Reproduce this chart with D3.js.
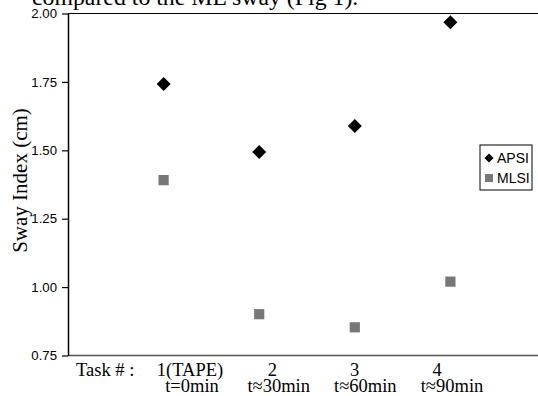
<!DOCTYPE html>
<html>
<head>
<meta charset="utf-8">
<script src="https://cdn.jsdelivr.net/npm/d3@7"></script>
<style>
  body { margin: 0; background: #fff; }
  svg { display: block; }
</style>
</head>
<body>
<div id="chart"></div>
<script>
// data
var tasks = [1, 2, 3, 4];
var taskNames = ["1(TAPE)", "2", "3", "4"];
var taskTimes = ["t=0min", "t\u224830min", "t\u224860min", "t\u224890min"];
var apsi = [1.742, 1.494, 1.589, 1.968];
var mlsi = [1.391, 0.901, 0.853, 1.020];
var yTicks = [0.75, 1.00, 1.25, 1.50, 1.75, 2.00];
var seriesNames = ["APSI", "MLSI"];

var width = 538, height = 396;
var margin = {top: 13.5, right: -8, bottom: 40.5, left: 68};

var svg = d3.select("#chart").append("svg")
  .attr("width", width)
  .attr("height", height);

var x = d3.scaleLinear()
  .domain([0, 5])
  .range([margin.left, width - margin.right]);
var y = d3.scaleLinear()
  .domain([0.75, 2.0])
  .range([height - margin.bottom, margin.top]);

// text cut off at the top of the page
svg.append("text")
  .attr("x", 32)
  .attr("y", 5)
  .style("font-family", "Liberation Serif")
  .style("font-size", "23.8px")
  .attr("fill", "#000")
  .text("compared to the ML sway (Fig 1).");

// top and bottom border of plot area
svg.append("line")
  .attr("x1", margin.left).attr("x2", width)
  .attr("y1", y(2.0)).attr("y2", y(2.0))
  .attr("stroke", "#000").attr("stroke-width", 1.2);
svg.append("line")
  .attr("x1", margin.left).attr("x2", width)
  .attr("y1", y(0.75)).attr("y2", y(0.75))
  .attr("stroke", "#555").attr("stroke-width", 1.5);

// y axis
var yAxis = svg.append("g")
  .attr("transform", "translate(" + margin.left + ",0)")
  .call(d3.axisLeft(y).tickValues(yTicks).tickFormat(d3.format(".2f"))
    .tickSize(6).tickPadding(5).tickSizeOuter(0));
yAxis.select(".domain").attr("stroke", "#000").attr("stroke-width", 1.5);
yAxis.selectAll(".tick line").attr("stroke", "#000").attr("stroke-width", 1.2);
yAxis.selectAll(".tick text")
  .style("font-family", "Liberation Sans")
  .style("font-size", "13.2px")
  .attr("fill", "#000");

svg.append("text")
  .attr("transform", "rotate(-90)")
  .attr("x", -180.5)
  .attr("y", 27)
  .style("text-anchor", "middle")
  .style("font-family", "Liberation Serif")
  .style("font-size", "21px")
  .attr("fill", "#000")
  .text("Sway Index (cm)");

// x labels (typed as text rows under the axis)
var lab1 = d3.scalePoint().domain(tasks).range([190, 437]);
var lab2 = d3.scalePoint().domain(tasks).range([192, 452]);

svg.append("text")
  .attr("x", 76)
  .attr("y", 375.5)
  .style("font-family", "Liberation Serif")
  .style("font-size", "18.5px")
  .attr("fill", "#000")
  .text("Task # :");

svg.selectAll(".lab1")
  .data(tasks)
  .enter().append("text")
  .attr("class", "lab1")
  .attr("x", function (d) { return lab1(d); })
  .attr("y", 375.5)
  .style("text-anchor", "middle")
  .style("font-family", "Liberation Serif")
  .style("font-size", "18.5px")
  .attr("fill", "#000")
  .text(function (d, i) { return taskNames[i]; });

svg.selectAll(".lab2")
  .data(tasks)
  .enter().append("text")
  .attr("class", "lab2")
  .attr("x", function (d) { return lab2(d); })
  .attr("y", 392)
  .style("text-anchor", "middle")
  .style("font-family", "Liberation Serif")
  .style("font-size", "18.5px")
  .attr("fill", "#000")
  .text(function (d, i) { return taskTimes[i]; });

// markers
var diamond = d3.symbol().type(d3.symbolSquare).size(98);
var square = d3.symbol().type(d3.symbolSquare).size(104);

svg.selectAll(".apsi")
  .data(apsi)
  .enter().append("path")
  .attr("class", "apsi")
  .attr("d", diamond)
  .attr("transform", function (d, i) {
    return "translate(" + x(tasks[i]) + "," + y(d) + ") rotate(45)";
  })
  .attr("fill", "#000");

svg.selectAll(".mlsi")
  .data(mlsi)
  .enter().append("path")
  .attr("class", "mlsi")
  .attr("d", square)
  .attr("transform", function (d, i) {
    return "translate(" + x(tasks[i]) + "," + y(d) + ")";
  })
  .attr("fill", "#777");

// legend
var legend = svg.append("g").attr("transform", "translate(480,145)");
legend.append("rect")
  .attr("width", 52).attr("height", 45)
  .attr("fill", "#fff").attr("stroke", "#000").attr("stroke-width", 1);

var leg = legend.selectAll(".leg")
  .data(seriesNames)
  .enter().append("g")
  .attr("class", "leg")
  .attr("transform", function (d, i) { return "translate(0," + (13 + i * 20) + ")"; });

leg.append("path")
  .attr("d", function (d, i) {
    return d3.symbol().type(d3.symbolSquare).size(i === 0 ? 42 : 64)();
  })
  .attr("transform", function (d, i) {
    return "translate(9,0)" + (i === 0 ? " rotate(45)" : "");
  })
  .attr("fill", function (d, i) { return i === 0 ? "#000" : "#777"; });

leg.append("text")
  .attr("x", 17)
  .attr("y", 5)
  .style("font-family", "Liberation Sans")
  .style("font-size", "14px")
  .attr("fill", "#000")
  .text(function (d) { return d; });
</script>
</body>
</html>
